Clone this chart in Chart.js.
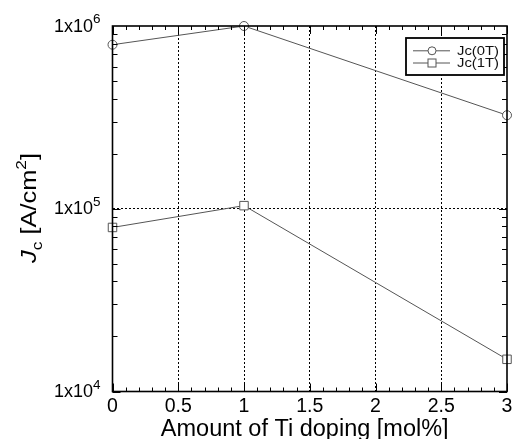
<!DOCTYPE html>
<html>
<head>
<meta charset="utf-8">
<script src="https://cdn.jsdelivr.net/npm/chart.js@4/dist/chart.umd.min.js"></script>
<style>
  html, body { margin: 0; padding: 0; background: #fff; }
  #wrap { width: 514px; height: 439px; }
</style>
</head>
<body>
<div id="wrap"><canvas id="c" width="514" height="439"></canvas></div>
<script>
// ---- data ----
const dopingLevels = [0, 1, 3];                 // Amount of Ti doping [mol%]
const jc0T = [7.9e5, 1.0e6, 3.25e5];            // Jc(0T) [A/cm^2]
const jc1T = [7.9e4, 1.04e5, 1.5e4];            // Jc(1T) [A/cm^2]
const seriesLabels = ['Jc(0T)', 'Jc(1T)'];
const xTickValues = [0, 0.5, 1, 1.5, 2, 2.5, 3];
const xTickLabels = ['0', '0.5', '1', '1.5', '2', '2.5', '3'];
const yTickExponents = [4, 5, 6];
const xTitle = 'Amount of Ti doping [mol%]';

const LINE = '#555';
const SANS = '"Liberation Sans", Arial, sans-serif';

function pts(vals) { return dopingLevels.map((x, i) => ({ x: x, y: vals[i] })); }

const decor = {
  id: 'decor',
  afterDatasetsDraw(chart) {
    const ctx = chart.ctx;
    const { left, right, top, bottom } = chart.chartArea;
    const xs = chart.scales.x, ys = chart.scales.y;
    ctx.save();
    ctx.strokeStyle = '#000';
    ctx.lineWidth = 1;
    // inward tick marks on x (top and bottom)
    for (let i = 0; i <= 30; i++) {
      const v = i / 10;
      const px = Math.round(xs.getPixelForValue(v)) + 0.5;
      const len = (i % 5 === 0) ? 8 : 4;
      ctx.beginPath();
      ctx.moveTo(px, bottom); ctx.lineTo(px, bottom - len);
      ctx.moveTo(px, top); ctx.lineTo(px, top + len);
      ctx.stroke();
    }
    // inward tick marks on y (left and right)
    for (let e = yTickExponents[0]; e < yTickExponents[yTickExponents.length - 1]; e++) {
      for (let m = 1; m <= 9; m++) {
        const v = m * Math.pow(10, e);
        const py = Math.round(ys.getPixelForValue(v)) + 0.5;
        const len = (m === 1) ? 8 : 5;
        ctx.beginPath();
        ctx.moveTo(left, py); ctx.lineTo(left + len, py);
        ctx.moveTo(right, py); ctx.lineTo(right - len, py);
        ctx.stroke();
      }
    }
    // frame
    ctx.lineWidth = 1.6;
    ctx.strokeRect(left, top, right - left, bottom - top);

    // x tick labels
    ctx.fillStyle = '#000';
    ctx.font = '19.5px ' + SANS;
    ctx.textAlign = 'center';
    ctx.textBaseline = 'alphabetic';
    xTickValues.forEach((v, i) => {
      ctx.fillText(xTickLabels[i], xs.getPixelForValue(v), bottom + 20);
    });

    // y tick labels 1x10^n
    yTickExponents.forEach(e => {
      const py = ys.getPixelForValue(Math.pow(10, e));
      ctx.font = '13.5px ' + SANS;
      const sup = String(e);
      const wSup = ctx.measureText(sup).width;
      ctx.textAlign = 'left';
      const xr = left - 12;
      ctx.fillText(sup, xr - wSup, py - 3);
      ctx.font = '18px ' + SANS;
      ctx.textAlign = 'right';
      ctx.fillText('1x10', xr - wSup, py + 5.5);
    });

    // x title
    ctx.font = '23.5px ' + SANS;
    ctx.textAlign = 'center';
    ctx.fillText(xTitle, (left + right) / 2 - 5, 436);

    // y title: J_c [A/cm^2]
    const parts = [
      { t: 'J', f: 'italic 22px ' + SANS, dy: 0 },
      { t: 'c', f: '15px ' + SANS, dy: 6 },
      { t: ' [A/cm', f: '22px ' + SANS, dy: 0 },
      { t: '2', f: '15px ' + SANS, dy: -10 },
      { t: ']', f: '22px ' + SANS, dy: 0 }
    ];
    let total = 0;
    parts.forEach(p => { ctx.font = p.f; p.w = ctx.measureText(p.t).width; total += p.w; });
    const target = 110;
    const sx = target / total;
    ctx.save();
    ctx.translate(35.5, 208);
    ctx.rotate(-Math.PI / 2);
    ctx.scale(sx, 1);
    ctx.textAlign = 'left';
    let cx = -total / 2;
    parts.forEach(p => { ctx.font = p.f; ctx.fillText(p.t, cx, p.dy); cx += p.w; });
    ctx.restore();

    // legend box
    const lx0 = 406, ly0 = 38, lx1 = 504, ly1 = 75;
    ctx.fillStyle = '#fff';
    ctx.fillRect(lx0, ly0, lx1 - lx0, ly1 - ly0);
    ctx.lineWidth = 1.8;
    ctx.strokeStyle = '#000';
    ctx.strokeRect(lx0, ly0, lx1 - lx0, ly1 - ly0);
    const rows = [50.8, 63];
    chart.data.datasets.forEach((ds, i) => {
      const yy = rows[i];
      ctx.strokeStyle = LINE;
      ctx.lineWidth = 1;
      ctx.beginPath(); ctx.moveTo(413, yy); ctx.lineTo(450, yy); ctx.stroke();
      ctx.fillStyle = '#fff';
      if (ds.pointStyle === 'circle') {
        ctx.beginPath(); ctx.arc(432, yy, 4, 0, Math.PI * 2); ctx.fill(); ctx.stroke();
      } else {
        ctx.fillRect(428, yy - 4, 8, 8); ctx.strokeRect(428, yy - 4, 8, 8);
      }
      ctx.fillStyle = '#111';
      ctx.font = '12px ' + SANS;
      ctx.textAlign = 'left';
      ctx.textBaseline = 'middle';
      const w = ctx.measureText(ds.label).width;
      ctx.save();
      ctx.translate(457, yy);
      ctx.scale(42 / w, 1);
      ctx.fillText(ds.label, 0, 0.5);
      ctx.restore();
      ctx.textBaseline = 'alphabetic';
    });
    ctx.restore();
  }
};

new Chart(document.getElementById('c'), {
  type: 'line',
  data: {
    datasets: [
      { label: seriesLabels[0], data: pts(jc0T), borderColor: LINE, borderWidth: 1, clip: false,
        pointStyle: 'circle', pointRadius: 4.5, pointBorderColor: LINE, pointBackgroundColor: '#fff',
        pointBorderWidth: 1, tension: 0 },
      { label: seriesLabels[1], data: pts(jc1T), borderColor: LINE, borderWidth: 1, clip: false,
        pointStyle: 'rect', pointRadius: 6, pointBorderColor: LINE, pointBackgroundColor: '#fff',
        pointBorderWidth: 1, tension: 0 }
    ]
  },
  options: {
    responsive: false,
    animation: false,
    events: [],
    layout: { padding: { left: 112.5, right: 4.5, top: 26, bottom: 47.5 } },
    plugins: { legend: { display: false }, tooltip: { enabled: false } },
    scales: {
      x: {
        type: 'linear', min: 0, max: 3,
        ticks: { display: false, stepSize: 0.5 },
        grid: {
          drawTicks: false, lineWidth: 1,
          color: c => (c.tick && c.tick.value > 0.01 && c.tick.value < 2.99) ? '#000' : 'rgba(0,0,0,0)'
        },
        border: { display: false, dash: [2, 2] }
      },
      y: {
        type: 'logarithmic', min: 1e4, max: 1e6,
        ticks: { display: false, autoSkip: false },
        grid: {
          drawTicks: false, lineWidth: 1,
          color: c => (c.tick && Math.abs(c.tick.value - 1e5) < 1) ? '#000' : 'rgba(0,0,0,0)'
        },
        border: { display: false, dash: [2, 2] }
      }
    }
  },
  plugins: [decor]
});
</script>
</body>
</html>
